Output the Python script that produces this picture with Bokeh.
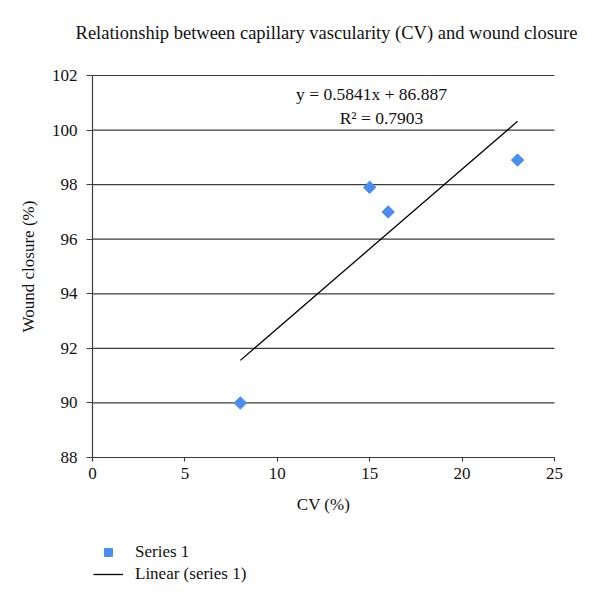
import math
from bokeh.plotting import figure
from bokeh.models import Legend, LegendItem, Label, FixedTicker, Range1d
from bokeh.embed import file_html
from bokeh.resources import INLINE

title_text = "Relationship between capillary vascularity (CV) and wound closure"
cv = [8, 15, 16, 23]
closure = [90.0, 97.9, 97.0, 98.9]
trend_slope = 0.5841
trend_intercept = 86.887
r_squared = 0.7903
x_ticks = [0, 5, 10, 15, 20, 25]
y_ticks = [88, 90, 92, 94, 96, 98, 100, 102]

FONT = "Liberation Serif"
INK = "#3c3c3c"
W, H = 600, 602

# pixel layout of the plotting area (page coordinates)
PX_LEFT, PX_RIGHT, PX_TOP, PX_BOTTOM = 92, 554, 75, 457
x0, x1 = x_ticks[0], x_ticks[-1]
y0, y1 = y_ticks[0], y_ticks[-1]
sx = (PX_RIGHT - PX_LEFT) / (x1 - x0)
sy = (PX_BOTTOM - PX_TOP) / (y1 - y0)
x_range = Range1d(x0 - PX_LEFT / sx, x1 + (W - PX_RIGHT) / sx)
y_range = Range1d(y0 - (H - PX_BOTTOM) / sy, y1 + PX_TOP / sy)

p = figure(width=W, height=H, output_backend="svg", toolbar_location=None,
           x_range=x_range, y_range=y_range,
           min_border_left=0, min_border_right=0, min_border_top=0, min_border_bottom=0)
p.outline_line_color = None
p.background_fill_color = "white"

for ax in (p.xaxis, p.yaxis):
    ax.axis_line_color = INK
    ax.axis_line_width = 1.2
    ax.major_tick_line_color = INK
    ax.major_tick_line_width = 1.2
    ax.minor_tick_line_color = None
    ax.major_label_text_font = FONT
    ax.major_label_text_font_size = "17px"
    ax.major_label_text_color = "#111111"
    ax.axis_label_text_font = FONT
    ax.axis_label_text_font_size = "17px"
    ax.axis_label_text_font_style = "normal"
    ax.axis_label_text_color = "#111111"
    ax.major_tick_in = 0

p.xaxis.fixed_location = y0
p.yaxis.fixed_location = x0
p.xaxis.bounds = (x0, x1)
p.yaxis.bounds = (y0, y1)
p.xaxis.major_tick_out = 4
p.yaxis.major_tick_out = 6
p.xaxis.ticker = FixedTicker(ticks=x_ticks)
p.yaxis.ticker = FixedTicker(ticks=y_ticks)
p.xaxis.axis_label = "CV (%)"
p.yaxis.axis_label = "Wound closure (%)"
p.xaxis.major_label_standoff = 6
p.xaxis.axis_label_standoff = 13
p.yaxis.major_label_standoff = 9
p.yaxis.axis_label_standoff = 11

# horizontal grid lines only across the plotting area
p.xgrid.grid_line_color = None
p.ygrid.grid_line_color = None
p.segment(x0=[x0] * len(y_ticks), x1=[x1] * len(y_ticks), y0=y_ticks, y1=y_ticks,
          line_color=INK, line_width=1.2)

pts = p.scatter(cv, closure, marker="square", angle=math.pi / 4, size=8.8,
                fill_color="#4a8ef0", line_color="#4a8ef0")

tx = [min(cv), max(cv)]
ty = [trend_slope * v + trend_intercept for v in tx]
ln = p.line(tx, ty, line_color="black", line_width=1.3)

title = Label(x=326, y=H - 32, x_units="screen", y_units="screen",
              text=title_text, text_font=FONT, text_font_size="18.5px",
              text_align="center", text_baseline="middle", text_color="#111111")
eq1 = Label(x=371, y=H - 93, x_units="screen", y_units="screen",
            text=f"y = {trend_slope}x + {trend_intercept}", text_font=FONT,
            text_font_size="17.5px", text_align="center", text_baseline="middle",
            text_color="#111111")
eq2 = Label(x=381, y=H - 117, x_units="screen", y_units="screen",
            text=f"R\u00b2 = {r_squared}", text_font=FONT,
            text_font_size="17.5px", text_align="center", text_baseline="middle",
            text_color="#111111")
for lab in (title, eq1, eq2):
    p.add_layout(lab)

legend = Legend(items=[LegendItem(label="Series 1", renderers=[pts]),
                       LegendItem(label="Linear (series 1)", renderers=[ln])],
                location=(93, H - 584), orientation="vertical",
                label_text_font=FONT, label_text_font_size="17px", label_text_color="#111111",
                border_line_color=None, background_fill_alpha=0,
                padding=0, margin=0, spacing=2, label_standoff=12, label_height=20,
                glyph_width=30, glyph_height=20)
p.add_layout(legend)

open("out.html", "w").write(file_html(p, INLINE))
